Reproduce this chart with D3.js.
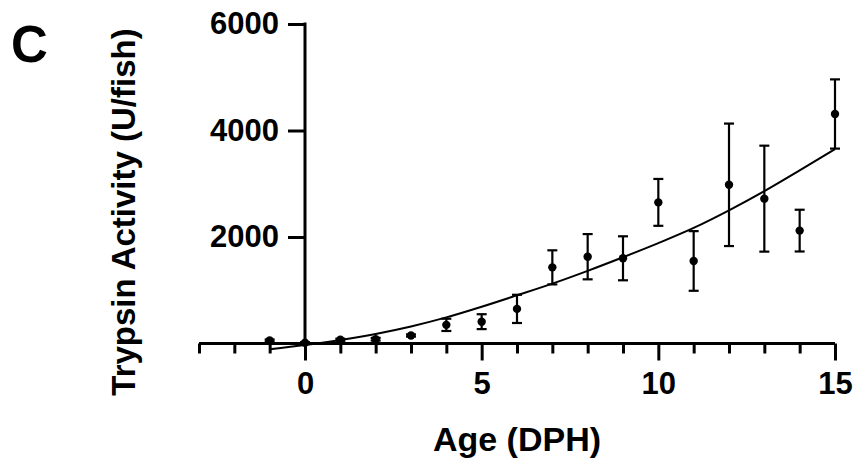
<!DOCTYPE html>
<html>
<head>
<meta charset="utf-8">
<script src="https://cdn.jsdelivr.net/npm/d3@7"></script>
<style>
  body { margin: 0; background: #fff; }
  text { font-family: "Liberation Sans", Arial, Helvetica, sans-serif; font-weight: bold; fill: #000; }
</style>
</head>
<body>
<div id="chart"></div>
<script>
// data
const ages = [-1, 0, 1, 2, 3, 4, 5, 6, 7, 8, 9, 10, 11, 12, 13, 14, 15];
const means = [55, 15, 70, 80, 150, 350, 410, 650, 1430, 1630, 1600, 2650, 1550, 2980, 2720, 2120, 4310];
const sds = [20, 10, 20, 25, 20, 115, 140, 265, 320, 425, 413, 440, 560, 1150, 995, 392, 650];

// fitted curve
const fitAges = [-1, 0, 1, 2, 3, 4, 5, 6, 7, 8, 9, 10, 11, 12, 13, 14, 15];
const fitValues = [-110, -30, 65, 180, 320, 490, 690, 905, 1125, 1365, 1620, 1885, 2170, 2500, 2860, 3250, 3650];

const yTickValues = [2000, 4000, 6000];
const xMajorTicks = [0, 5, 10, 15];
const xMinorTicks = [-3, -2, -1, 1, 2, 3, 4, 6, 7, 8, 9, 11, 12, 13, 14];

const W = 856, H = 462;

const svg = d3.select("#chart").append("svg")
  .attr("width", W)
  .attr("height", H);

const x = d3.scaleLinear().domain([-3, 15]).range([199, 835]);
const y = d3.scaleLinear().domain([0, 6000]).range([343.5, 24]);

// panel letter
svg.append("text")
  .attr("x", 11)
  .attr("y", 62)
  .style("font-size", "51px")
  .text("C");

// curve
const line = d3.line()
  .x((d, i) => x(fitAges[i]))
  .y(d => y(d))
  .curve(d3.curveMonotoneX);

svg.append("path")
  .datum(fitValues)
  .attr("d", line)
  .attr("fill", "none")
  .attr("stroke", "#000")
  .attr("stroke-width", 2);

// error bars
const pts = ages.map((a, i) => ({ age: a, mean: means[i], sd: sds[i] }));
const eb = svg.append("g").attr("stroke", "#000").attr("stroke-width", 2.2);

eb.selectAll(".v").data(pts).enter().append("line")
  .attr("x1", d => x(d.age)).attr("x2", d => x(d.age))
  .attr("y1", d => y(d.mean + d.sd)).attr("y2", d => y(d.mean - d.sd));

eb.selectAll(".t").data(pts).enter().append("line")
  .attr("x1", d => x(d.age) - 5).attr("x2", d => x(d.age) + 5)
  .attr("y1", d => y(d.mean + d.sd)).attr("y2", d => y(d.mean + d.sd));

eb.selectAll(".b").data(pts).enter().append("line")
  .attr("x1", d => x(d.age) - 5).attr("x2", d => x(d.age) + 5)
  .attr("y1", d => y(d.mean - d.sd)).attr("y2", d => y(d.mean - d.sd));

// points
svg.selectAll("circle").data(pts).enter().append("circle")
  .attr("cx", d => x(d.age))
  .attr("cy", d => y(d.mean))
  .attr("r", 4.2)
  .attr("fill", "#000");

// x axis: minor ticks, then major ticks with labels
const xAxisG = svg.append("g").attr("transform", `translate(0,${y(0)})`);

xAxisG.append("g")
  .call(d3.axisBottom(x).tickValues(xMinorTicks).tickSize(10).tickSizeOuter(0).tickFormat(""))
  .call(g => g.select(".domain").remove());

xAxisG.append("g")
  .call(d3.axisBottom(x).tickValues(xMajorTicks).tickSize(17).tickSizeOuter(0).tickPadding(11).tickFormat(d3.format("d")))
  .call(g => g.select(".domain").remove())
  .selectAll("text")
  .style("font-size", "31px");

xAxisG.append("line")
  .attr("x1", x(-3)).attr("x2", x(15))
  .attr("stroke", "#000").attr("stroke-width", 3);

xAxisG.selectAll(".tick line").attr("stroke-width", 3);

// y axis
const yAxisG = svg.append("g").attr("transform", `translate(${x(0)},0)`);

yAxisG.call(d3.axisLeft(y).tickValues(yTickValues).tickSize(17).tickSizeOuter(0).tickPadding(9).tickFormat(d3.format("d")))
  .call(g => g.select(".domain").remove());

yAxisG.selectAll(".tick line").attr("stroke-width", 3);
yAxisG.selectAll("text").style("font-size", "31px");

yAxisG.append("line")
  .attr("y1", y(6000) - 1.5).attr("y2", y(0))
  .attr("stroke", "#000").attr("stroke-width", 3);

// axis titles
svg.append("text")
  .attr("x", 517)
  .attr("y", 451)
  .attr("text-anchor", "middle")
  .style("font-size", "34px")
  .text("Age (DPH)");

svg.append("text")
  .attr("transform", "translate(135,212) rotate(-90)")
  .attr("text-anchor", "middle")
  .style("font-size", "33px")
  .text("Trypsin Activity (U/fish)");
</script>
</body>
</html>
